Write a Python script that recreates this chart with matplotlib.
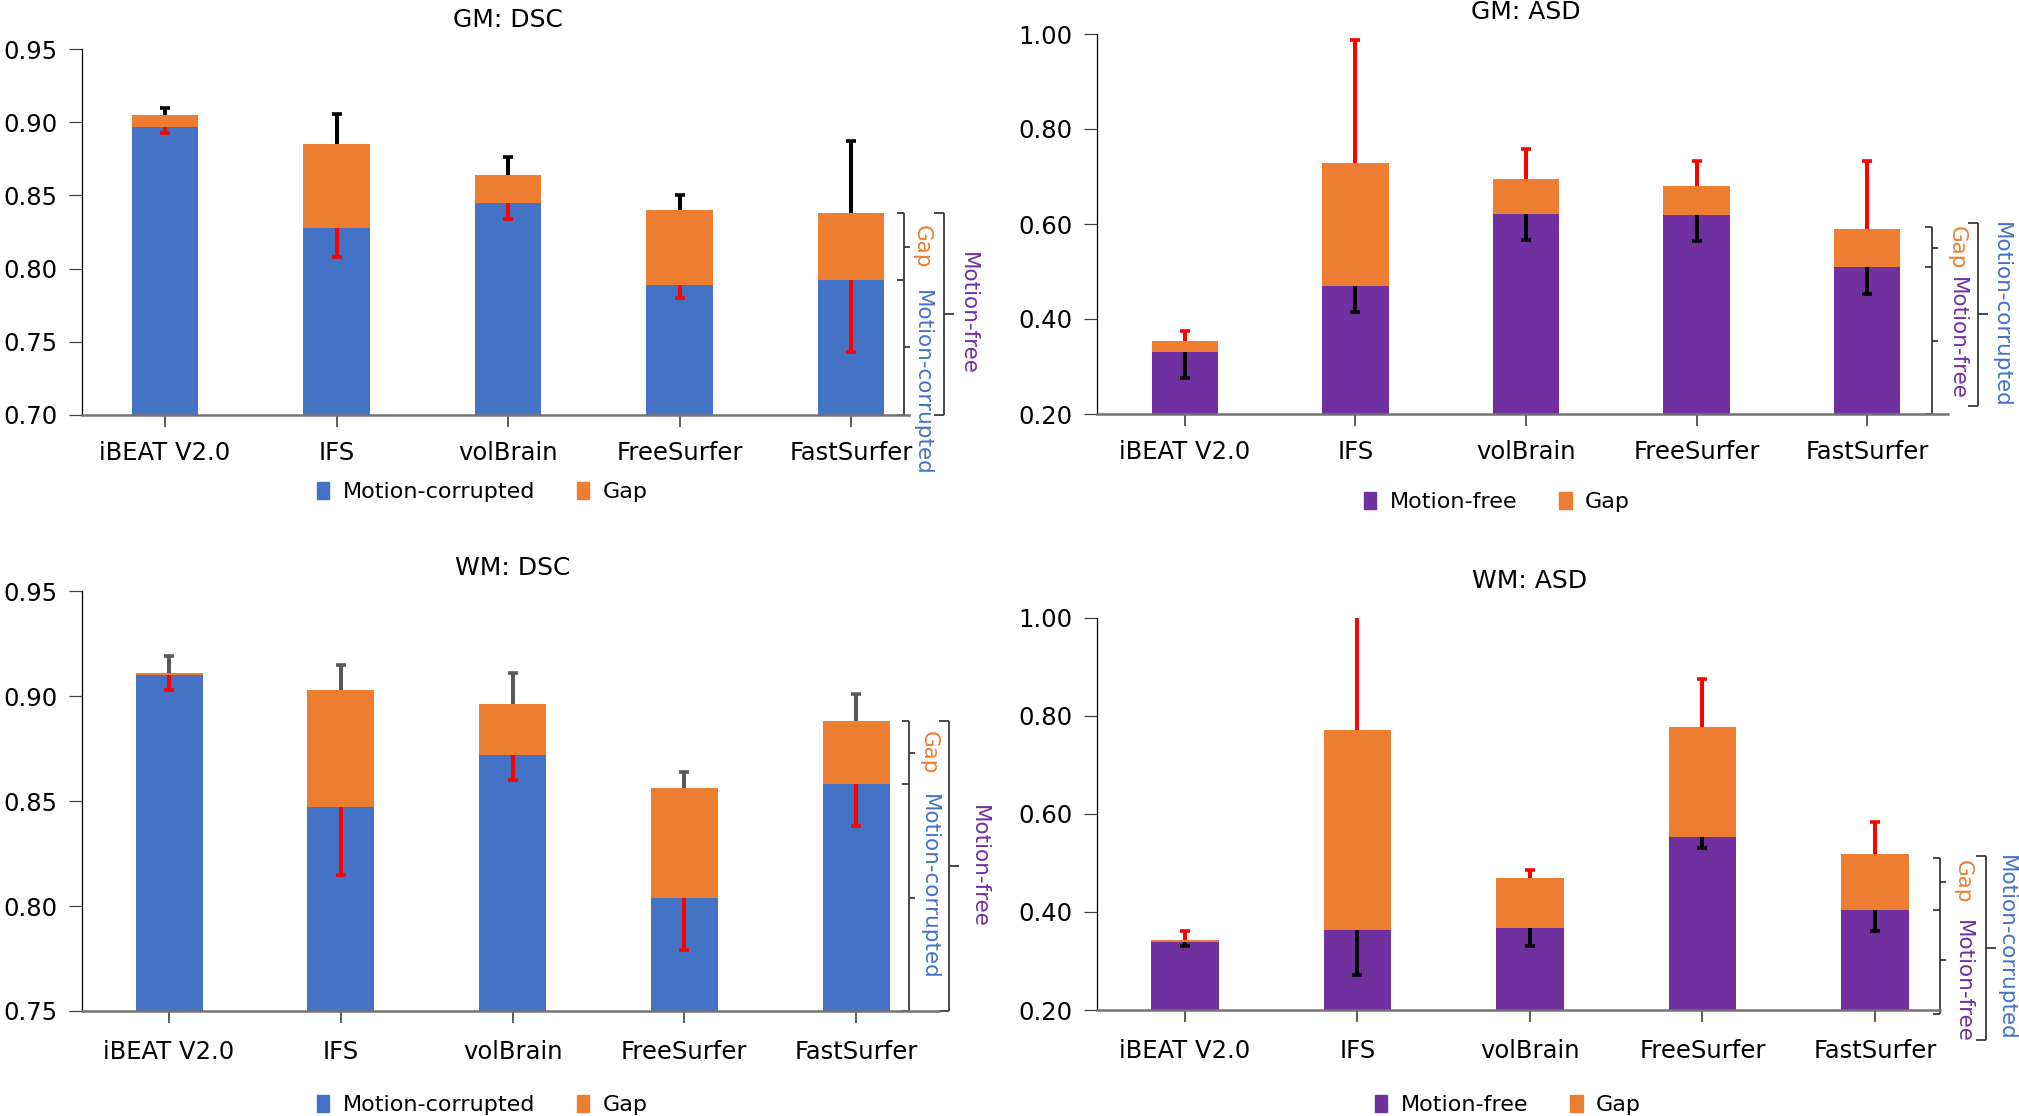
import numpy as np
import matplotlib
matplotlib.use("Agg")
import matplotlib.pyplot as plt
import matplotlib.transforms as mtransforms
from matplotlib.patches import Patch

tools = ['iBEAT V2.0', 'IFS', 'volBrain', 'FreeSurfer', 'FastSurfer']

# GM: DSC  (lower bar = motion-corrupted, full stack = motion-free)
gm_dsc_corrupted = [0.897, 0.828, 0.845, 0.789, 0.792]
gm_dsc_free = [0.905, 0.885, 0.864, 0.840, 0.838]
gm_dsc_err_free = [0.005, 0.021, 0.012, 0.010, 0.049]
gm_dsc_err_corrupted = [0.004, 0.020, 0.011, 0.009, 0.049]

# GM: ASD  (lower bar = motion-free, full stack = motion-corrupted)
gm_asd_free = [0.330, 0.470, 0.621, 0.618, 0.509]
gm_asd_corrupted = [0.353, 0.728, 0.695, 0.680, 0.590]
gm_asd_err_corrupted = [0.022, 0.259, 0.062, 0.053, 0.143]
gm_asd_err_free = [0.055, 0.055, 0.055, 0.054, 0.056]

# WM: DSC
wm_dsc_corrupted = [0.910, 0.847, 0.872, 0.804, 0.858]
wm_dsc_free = [0.911, 0.903, 0.896, 0.856, 0.888]
wm_dsc_err_free = [0.008, 0.012, 0.015, 0.008, 0.013]
wm_dsc_err_corrupted = [0.007, 0.032, 0.012, 0.025, 0.020]

# WM: ASD
wm_asd_free = [0.338, 0.363, 0.368, 0.552, 0.404]
wm_asd_corrupted = [0.343, 0.771, 0.469, 0.776, 0.517]
wm_asd_err_corrupted = [0.019, 0.250, 0.017, 0.098, 0.066]
wm_asd_err_free = [0.008, 0.091, 0.038, 0.021, 0.042]

BLUE = '#4472C4'
ORANGE = '#ED7D31'
PURPLE = '#7030A0'
RED = '#FF0000'
BRK = '#3a3a3a'

W, H = 2019, 1116
fig = plt.figure(figsize=(W / 100, H / 100), dpi=100)


def bracket(ax, x, y0, y1, left_ys, right_ys, llen, rlen):
    kw = dict(color=BRK, lw=1.3, clip_on=False, solid_capstyle='butt')
    ax.plot([x, x], [y0, y1], **kw)
    for y in left_ys:
        ax.plot([x - llen, x], [y, y], **kw)
    for y in right_ys:
        ax.plot([x, x + rlen], [y, y], **kw)


def panel(rect, xlim, ylim, yticks, title, title_y, lower, total, err_top, err_low,
          low_color, top_ecolor, low_ecolor, low_name, top_name, legend_xy,
          brk, xpad):
    ax = fig.add_axes(rect)
    x = np.arange(len(tools))
    lower = np.array(lower)
    total = np.array(total)
    gap = total - lower
    ax.bar(x, lower, 0.39, color=low_color, zorder=2)
    ax.bar(x, gap, 0.39, bottom=lower, color=ORANGE, zorder=2)

    top_end = total + np.array(err_top)
    low_end = lower - np.array(err_low)
    ax.vlines(x, total, top_end, colors=top_ecolor, lw=2.9, zorder=3)
    ax.plot(x, top_end, ls='none', marker='_', ms=7, mew=2.6, color=top_ecolor, zorder=3)
    ax.vlines(x, lower, low_end, colors=low_ecolor, lw=2.9, zorder=3)
    ax.plot(x, low_end, ls='none', marker='_', ms=7, mew=2.6, color=low_ecolor, zorder=3)

    ax.set_xlim(*xlim)
    ax.set_ylim(*ylim)
    ax.set_yticks(yticks)
    ax.set_yticklabels(['%.2f' % v for v in yticks])
    ax.set_xticks(x)
    ax.set_xticklabels(tools)
    ax.tick_params(axis='y', labelsize=17.5, length=9.4, width=0.9, color='#404040', pad=8)
    ax.tick_params(axis='x', labelsize=17.5, length=8.6, width=1.2, color='#404040', pad=xpad)
    for s in ['top', 'right']:
        ax.spines[s].set_visible(False)
    ax.spines['left'].set_linewidth(0.9)
    ax.spines['bottom'].set_color('#737373')
    ax.spines['bottom'].set_linewidth(1.8)

    trans = mtransforms.blended_transform_factory(ax.transData, ax.transAxes)
    ax.text(2, title_y, title, transform=trans, ha='center', va='center', fontsize=18)

    handles = [Patch(color=low_color, label=low_name), Patch(color=ORANGE, label='Gap')]
    ax.legend(handles=handles, loc='center', bbox_to_anchor=legend_xy, ncol=2, frameon=False,
              fontsize=16, handlelength=0.55, handleheight=0.8, handletextpad=0.6,
              columnspacing=1.9, borderaxespad=0)

    # explanatory brackets next to the last bar
    ymin = ylim[0]
    top = total[-1]
    mid = lower[-1]
    xi, xt, xo, xot = brk['x']
    ib, it = brk['inner']
    ob, ot = brk['outer']
    bracket(ax, xi, ymin + ib, top + it, [ymin + ib, mid, top + it],
            [(mid + top) / 2, (ymin + mid) / 2], 0.04, 0.035)
    bracket(ax, xo, ymin + ob, top + ot, [ymin + ob, top + ot],
            [(ymin + ob + top + ot) / 2], 0.06, 0.06)
    tk = dict(rotation=-90, fontsize=15.5, ha='center')
    ax.text(xt, (mid + top) / 2, 'Gap', color=ORANGE, va='center', **tk)
    ax.annotate(low_name, xy=(xt, mid), xytext=(0, -7), textcoords='offset points',
                color=BLUE if low_name == 'Motion-corrupted' else PURPLE, va='top',
                annotation_clip=False, **tk)
    ax.text(xot, (ymin + ob + top + ot) / 2, top_name, va='center',
            color=BLUE if top_name == 'Motion-corrupted' else PURPLE, **tk)
    return ax


panel([82 / W, 1 - 414.7 / H, 827 / W, 365.4 / H], (-0.484, 4.338), (0.70, 0.95),
      [0.70, 0.75, 0.80, 0.85, 0.90, 0.95], 'GM: DSC', 1.079,
      gm_dsc_corrupted, gm_dsc_free, gm_dsc_err_free, gm_dsc_err_corrupted,
      BLUE, 'black', RED, 'Motion-corrupted', 'Motion-free', (0.484, -0.212),
      dict(x=(4.309, 4.414, 4.542, 4.682), inner=(0, 0), outer=(0, 0)), 10)

panel([1097 / W, 1 - 414 / H, 851 / W, 380 / H], (-0.516, 4.475), (0.20, 1.00),
      [0.20, 0.40, 0.60, 0.80, 1.00], 'GM: ASD', 1.058,
      gm_asd_free, gm_asd_corrupted, gm_asd_err_corrupted, gm_asd_err_free,
      PURPLE, RED, 'black', 'Motion-free', 'Motion-corrupted', (0.470, -0.232),
      dict(x=(4.381, 4.528, 4.652, 4.785), inner=(0, 0.004), outer=(0.017, 0.012)), 10)

panel([82 / W, 1 - 1011 / H, 857 / W, 420 / H], (-0.507, 4.483), (0.75, 0.95),
      [0.75, 0.80, 0.85, 0.90, 0.95], 'WM: DSC', 1.055,
      wm_dsc_corrupted, wm_dsc_free, wm_dsc_err_free, wm_dsc_err_corrupted,
      BLUE, '#595959', RED, 'Motion-corrupted', 'Motion-free', (0.467, -0.224),
      dict(x=(4.309, 4.425, 4.542, 4.716), inner=(0, 0), outer=(0, 0)), 12)

panel([1097 / W, 1 - 1010 / H, 843 / W, 392.5 / H], (-0.51, 4.377), (0.20, 1.00),
      [0.20, 0.40, 0.60, 0.80, 1.00], 'WM: ASD', 1.093,
      wm_asd_free, wm_asd_corrupted, wm_asd_err_corrupted, wm_asd_err_free,
      PURPLE, RED, 'black', 'Motion-free', 'Motion-corrupted', (0.4875, -0.242),
      dict(x=(4.377, 4.51, 4.643, 4.76), inner=(-0.008, -0.007), outer=(-0.061, -0.004)), 12)

fig.savefig('out.png', dpi=100)
